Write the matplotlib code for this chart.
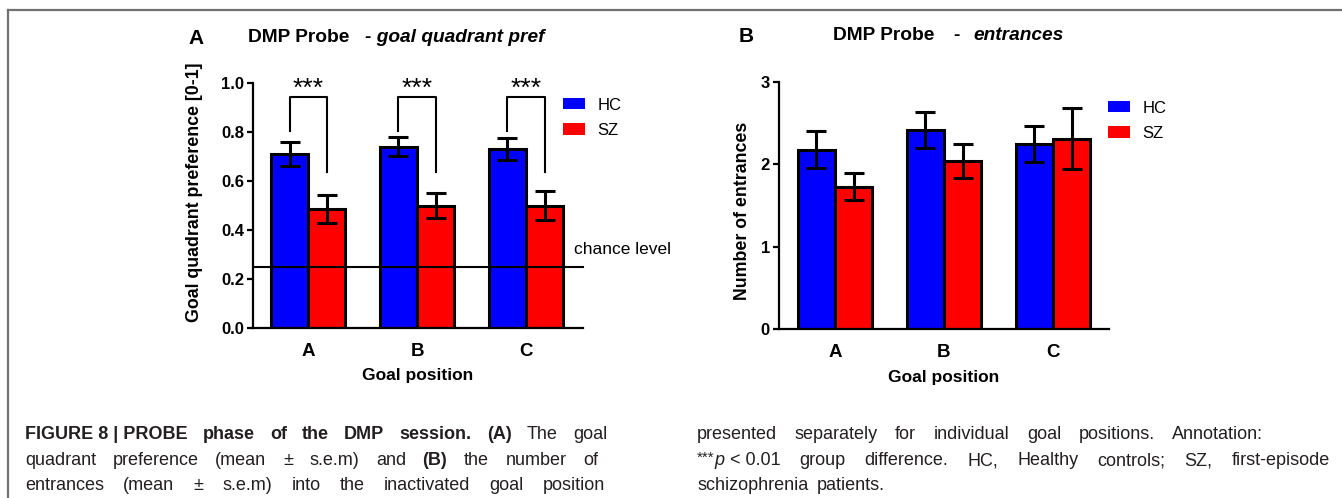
import numpy as np
import matplotlib
matplotlib.use('Agg')
import matplotlib.pyplot as plt
from matplotlib.lines import Line2D
from matplotlib.patches import Patch
from matplotlib.transforms import IdentityTransform

plt.rcParams['font.family'] = ['Liberation Sans', 'DejaVu Sans']

# ---- data
groups = ['A', 'B', 'C']
pref_hc = [0.71, 0.74, 0.73]
pref_hc_sem = [0.050, 0.038, 0.045]
pref_sz = [0.485, 0.50, 0.50]
pref_sz_sem = [0.058, 0.050, 0.058]
ent_hc = [2.18, 2.42, 2.25]
ent_hc_sem = [0.23, 0.22, 0.22]
ent_sz = [1.73, 2.04, 2.31]
ent_sz_sem = [0.16, 0.21, 0.37]
chance = 0.25
sig_marks = ['***', '***', '***']

W, H = 1342, 498
fig = plt.figure(figsize=(W/100, H/100), dpi=100)

def px_axes(l, r, t, b):
    return fig.add_axes([l/W, 1 - b/H, (r - l)/W, (b - t)/H])

axA = px_axes(253, 583, 83, 328)
axB = px_axes(779, 1109, 82, 329)

x = np.arange(len(groups))
bw = 0.34
blue, red = '#0000ff', '#ff0000'

def draw_bars(ax, hc, hc_e, sz, sz_e):
    ax.bar(x - bw/2, hc, bw, color=blue, edgecolor='black', linewidth=2.2, zorder=2)
    ax.bar(x + bw/2, sz, bw, color=red, edgecolor='black', linewidth=2.2, zorder=2)
    ax.errorbar(x - bw/2, hc, yerr=hc_e, fmt='none', ecolor='black', elinewidth=2.2,
                capsize=7.5, capthick=2.2, zorder=3)
    ax.errorbar(x + bw/2, sz, yerr=sz_e, fmt='none', ecolor='black', elinewidth=2.2,
                capsize=7.5, capthick=2.2, zorder=3)
    for s in ['top', 'right']:
        ax.spines[s].set_visible(False)
    for s in ['left', 'bottom']:
        ax.spines[s].set_linewidth(1.6)
    ax.set_xticks(x)
    ax.set_xticklabels(groups, fontsize=13.5, fontweight='bold')
    ax.tick_params(axis='x', length=0, pad=11)
    ax.tick_params(axis='y', length=4.5, width=1.6, pad=2, labelsize=12)
    for lab in ax.get_yticklabels():
        lab.set_fontweight('bold')
    ax.set_xlabel('Goal position', fontsize=12.5, fontweight='bold')
    ax.xaxis.label.set_va('center')
    ax.xaxis.set_label_coords(0.5, -0.195)

# ---- panel A
draw_bars(axA, pref_hc, pref_hc_sem, pref_sz, pref_sz_sem)
axA.set_xlim(-0.505, 2.523)
axA.set_ylim(0, 1.0)
axA.set_yticks(np.arange(0, 1.01, 0.2))
axA.set_yticklabels(['%.1f' % v for v in np.arange(0, 1.01, 0.2)], fontweight='bold')
axA.axhline(chance, color='black', linewidth=1.5, zorder=4, clip_on=False)
axA.text(2.44, 0.32, 'chance level', fontsize=12.5, va='center', ha='left')
for i, m in enumerate(sig_marks):
    xl, xr = x[i] - bw/2, x[i] + bw/2
    axA.plot([xl, xl, xr, xr], [0.805, 0.942, 0.942, 0.636], color='black',
             linewidth=1.5, clip_on=False, zorder=4)
    axA.text(x[i], 0.975, m, ha='center', va='center', fontsize=19)
axA.set_ylabel('Goal quadrant preference [0-1]', fontsize=12.8, fontweight='bold')
axA.yaxis.label.set_va('center')
axA.yaxis.set_label_coords(-0.176, 0.553)

# ---- panel B
draw_bars(axB, ent_hc, ent_hc_sem, ent_sz, ent_sz_sem)
axB.set_xlim(-0.514, 2.514)
axB.set_ylim(0, 3)
axB.set_yticks([0, 1, 2, 3])
axB.set_yticklabels(['0', '1', '2', '3'], fontweight='bold')
axB.set_ylabel('Number of entrances', fontsize=12.8, fontweight='bold')
axB.yaxis.label.set_va('center')
axB.yaxis.set_label_coords(-0.112, 0.478)

# legends
handles = [Patch(facecolor=blue, edgecolor='none'), Patch(facecolor=red, edgecolor='none')]
for ax, lx, ly in [(axA, 563, 97.5), (axB, 1108, 100.5)]:
    ax.legend(handles, ['HC', 'SZ'], loc='upper left', bbox_to_anchor=(lx/W, 1 - ly/H),
              bbox_transform=fig.transFigure, frameon=False, fontsize=12,
              handlelength=1.32, handleheight=0.66, handletextpad=0.75,
              labelspacing=0.62, borderpad=0, borderaxespad=0)

# titles
def ftext(px, py, s, **kw):
    fig.text(px/W, 1 - py/H, s, va='center', ha='left', **kw)

ftext(188, 38, 'A', fontsize=15, fontweight='bold')
ftext(248, 37, 'DMP Probe', fontsize=13.8, fontweight='bold')
ftext(365, 37, '- goal quadrant pref', fontsize=13.8, fontweight='bold', style='italic')
ftext(739, 37, 'B', fontsize=15, fontweight='bold')
ftext(833, 36, 'DMP Probe', fontsize=13.8, fontweight='bold')
ftext(953, 36, '-', fontsize=13.8, fontweight='bold')
ftext(973, 36, 'entrances', fontsize=13.8, fontweight='bold', style='italic')

# frame lines
fig.add_artist(Line2D([8/W, 1], [1 - 10/H, 1 - 10/H], color='#707070', linewidth=1.6))
fig.add_artist(Line2D([8/W, 8/W], [0, 1 - 10/H], color='#707070', linewidth=1.6))

# ---- caption (justified)
cap_size = 13
cap_col = '#231f20'
B_ = dict(fontweight='bold')
R_ = dict()

def words(s, props):
    return [[(w, props)] for w in s.split()]

renderer = fig.canvas.get_renderer()

def draw_line(wlist, x0, x1, yb, justify=True):
    placed = []
    total = 0
    for word in wlist:
        segs = []
        ww = 0
        for txt, props in word:
            p = dict(fontsize=cap_size, color=cap_col)
            p.update(props)
            dy = p.pop('dy', 0)
            t = fig.text(0, 0, txt, transform=IdentityTransform(), va='baseline', ha='left', **p)
            w = t.get_window_extent(renderer).width
            segs.append((t, w, dy))
            ww += w
        placed.append((segs, ww))
        total += ww
    if justify and len(placed) > 1:
        gap = (x1 - x0 - total) / (len(placed) - 1)
    else:
        gap = 0.28 * cap_size * 100 / 72 * 1.6
    cx = x0
    for segs, ww in placed:
        for t, w, dy in segs:
            t.set_position((cx, H - yb + dy))
            cx += w
        cx += gap

line1 = [[('FIGURE 8 | PROBE', B_)]] + words('phase of the DMP session. (A)', B_) + words('The goal', R_)
line2 = words('quadrant preference (mean', R_) + [[('±', R_)]] + words('s.e.m) and', R_) + \
        [[('(B)', B_)]] + words('the number of', R_)
line3 = words('entrances (mean', R_) + [[('±', R_)]] + words('s.e.m) into the inactivated goal position', R_)
rline1 = words('presented separately for individual goal positions. Annotation:', R_)
rline2 = [[('***', dict(fontsize=11, dy=3)), ('p', dict(style='italic')), (' < 0.01', R_)]] + \
         words('group difference. HC, Healthy controls; SZ, first-episode', R_)
rline3 = words('schizophrenia patients.', R_)

draw_line(line1, 25, 607, 439)
draw_line(line2, 25, 598, 465)
draw_line(line3, 25, 605, 490)
draw_line(rline1, 697, 1263, 439)
draw_line(rline2, 697, 1330, 465)
draw_line(rline3, 697, 900, 490, justify=False)

fig.savefig('out.png', dpi=100)
